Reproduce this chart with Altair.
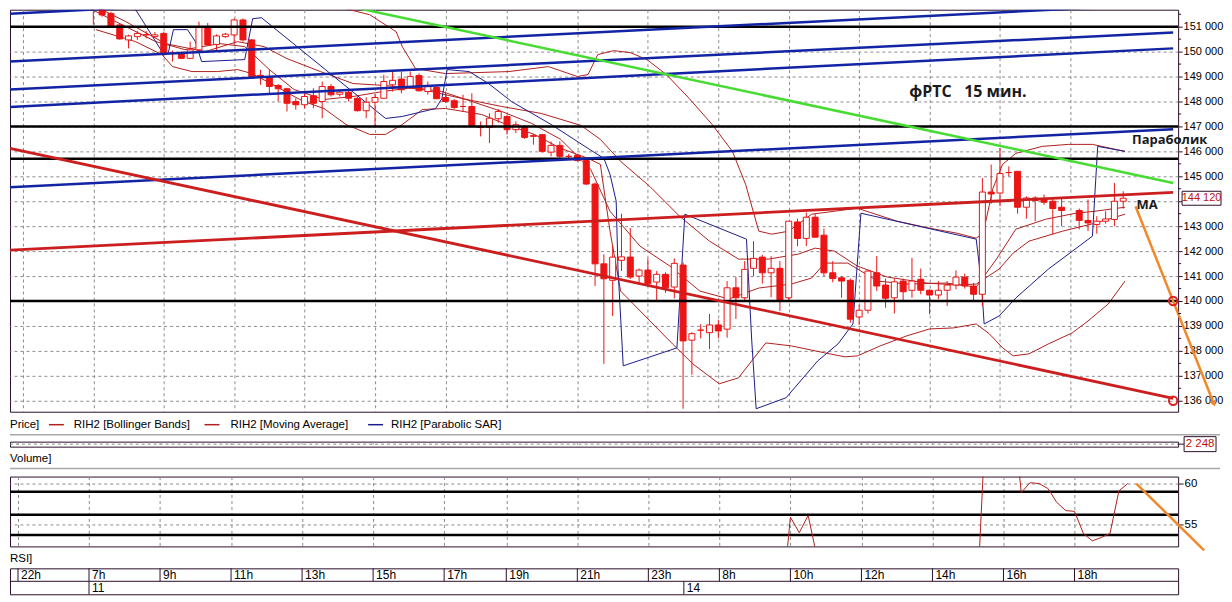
import altair as alt
import pandas as pd

# ------------------------------------------------------------------ data
# x unit = one 15-minute candle slot; slot 0 = 22h of the previous day
grid_slot = [0, 8, 16, 24, 32, 40, 48, 55, 63, 71, 79, 87, 95, 103, 111, 119]
time_labels = ["22h", "7h", "9h", "11h", "13h", "15h", "17h", "19h", "21h",
               "23h", "8h", "10h", "12h", "14h", "16h", "18h"]
day_slot = [8, 75]
day_labels = ["11", "14"]

price_ticks = [136000, 137000, 138000, 139000, 140000, 141000, 142000, 143000,
               144000, 145000, 146000, 147000, 148000, 149000, 150000, 151000]
minor_ticks = [136500, 137500, 138500, 139500, 140500, 141500, 142500, 143500,
               144500, 145500, 146500, 147500, 148500, 149500, 150500, 151500]

candle_slot = list(range(8, 119)) + list(range(120, 126))
candle_open = [
    152300, 151900, 151530, 151070, 150470, 150600, 150670, 150600, 150730, 149930,
    149930, 149730, 150070, 151000, 150290, 150600, 150670, 151270, 150470, 149050,
    148960, 148640, 148510, 148000, 147870, 148230, 148000, 148600, 148290, 148370,
    148130, 147630, 147970, 148130, 148670, 148900, 148600, 149040, 148400, 148560,
    148160, 148030, 147800, 147800, 146960, 146960, 147310, 147400, 146870, 147000,
    146600, 146670, 145970, 146240, 145800, 145840, 145630, 144690, 141490, 140830,
    141630, 141760, 141000, 141240, 140760, 141070, 140560, 141440, 138430, 138830,
    138730, 139040, 138870, 140530, 140130, 141310, 141760, 141130, 141310, 140130,
    143170, 142510, 143360, 142640, 141130, 140930, 140830, 139360, 139630, 141130,
    140640, 140130, 140800, 140430, 140870, 140430, 140240, 140430, 140640, 140960,
    140600, 140270, 144370, 144330, 145150, 145200, 143760, 144130, 144100, 144000, 143760,
    143630, 143230, 143070, 143200, 143270, 144000]
candle_high = [
    152500, 152000, 151600, 151150, 150680, 150830, 150830, 150790, 150800, 150040,
    150000, 150400, 151200, 151150, 150690, 150750, 151330, 151330, 150500, 149270,
    149270, 148700, 148550, 148130, 148330, 148530, 148800, 148700, 148470, 148450,
    148200, 148170, 148300, 149070, 149200, 149200, 149200, 149130, 148800, 148600,
    148400, 148100, 148270, 148330, 147200, 147530, 147700, 147450, 147200, 147050,
    146700, 146700, 146400, 146400, 145900, 145900, 145700, 144750, 141870, 142200,
    143500, 142930, 141300, 141710, 141200, 141150, 141710, 141550, 138750, 139070,
    139480, 139250, 140800, 140960, 141600, 142400, 141850, 141800, 141600, 143200,
    143300, 143550, 143500, 142900, 141600, 141000, 140900, 139850, 141250, 141800,
    140900, 140900, 140900, 141730, 141300, 140470, 140800, 140800, 141230, 141100,
    140730, 144930, 145470, 146130, 145400, 145200, 144200, 144200, 144270, 144100, 144100,
    143710, 144070, 143400, 143600, 144730, 144400]
candle_low = [
    151080, 151400, 150950, 150480, 150130, 150470, 150530, 150560, 149800, 149600,
    149700, 149700, 150000, 150250, 150000, 150550, 150270, 150400, 148930, 148670,
    148270, 148000, 147600, 147670, 147730, 147730, 147330, 148200, 148200, 148000,
    147600, 147330, 147000, 148100, 148400, 148330, 148500, 148400, 148270, 148100,
    147950, 147700, 147600, 147000, 146600, 146330, 147150, 146670, 146730, 146500,
    146270, 145950, 145800, 145730, 145700, 145600, 144650, 140600, 137480, 139400,
    141200, 140880, 140700, 140580, 140000, 140330, 140100, 135680, 137040, 138500,
    138070, 138500, 138530, 139280, 140000, 141000, 140700, 140150, 139600, 140000,
    142200, 142200, 142560, 141000, 140750, 140130, 139130, 139050, 139500, 140400,
    139730, 139500, 140000, 140130, 140270, 139470, 140070, 139800, 140470, 140500,
    140000, 139800, 143900, 143800, 145000, 143500, 143300, 143200, 143860, 142670, 143000,
    142870, 142800, 142700, 143100, 143000, 143700]
candle_close = [
    151950, 151470, 151000, 150510, 150630, 150730, 150680, 150670, 149910, 149940,
    149730, 150070, 151000, 150270, 150630, 150700, 151270, 150470, 149000, 149000,
    148600, 148510, 147930, 147870, 148200, 147930, 148600, 148270, 148370, 148130,
    147630, 147970, 148160, 148800, 148850, 148470, 149000, 148430, 148600, 148110,
    148000, 147760, 147800, 147040, 146960, 147330, 147600, 146870, 147070, 146560,
    146640, 146000, 146240, 145800, 145800, 145630, 144690, 141490, 140890, 141760,
    141770, 140960, 141240, 140690, 141070, 140530, 141510, 138400, 138690, 138830,
    139040, 138800, 140530, 140130, 141270, 141710, 141130, 141310, 140000, 143200,
    142510, 143360, 142560, 141130, 140900, 140800, 139270, 139630, 141200, 140600,
    140110, 140770, 140370, 140800, 140430, 140240, 140430, 140640, 140960, 140600,
    140270, 144370, 144290, 145110, 145150, 143760, 144130, 144030, 143960, 143710, 143630,
    143230, 143130, 143200, 143290, 144000, 144120]

bb_upper_slot = [8.9, 15.1, 20.7, 25.2, 27.8, 30.8, 35.3, 39.4, 42.4, 43.1, 44.6, 48.0,
                 55.2, 59.7, 63.0, 64.2, 65.3, 67.1, 69.0, 70.9, 73.1, 75.7, 78.3, 80.6,
                 82.1, 83.6, 85.1, 87.0, 89.6, 94.8, 99.3, 103.0, 106.1, 108.3, 109.1,
                 110.2, 111.3, 112.8, 115.8, 118.8, 121.5, 125.2]
bb_upper = [152400, 152200, 152000, 152080, 151880, 151800, 151840, 151480, 150800, 150200,
            149320, 149120, 149200, 149400, 149000, 149080, 149880, 150040, 149960, 149680,
            149080, 148120, 147080, 146000, 144680, 142800, 142680, 142800, 143480, 143720,
            143200, 142920, 142720, 142520, 142720, 144520, 145480, 145920, 146200, 146280,
            146280, 146000]
bb_mid_slot = [7.2, 11.7, 16.2, 20.7, 24.4, 27.4, 30.0, 33.8, 37.5, 41.2, 45.4, 49.9,
               54.4, 58.9, 63.4, 65.6, 67.9, 71.2, 74.6, 78.0, 81.3, 84.7, 88.1, 90.0,
               92.2, 94.8, 98.2, 102.7, 106.1, 108.3, 110.9, 112.5, 114.3, 118.1, 121.8, 125.2]
bb_mid = [152000, 151200, 150320, 150000, 150400, 150200, 149720, 149200, 148720, 148640,
          148480, 148120, 147800, 147520, 147040, 146480, 145600, 144600, 143400, 142400,
          141680, 141680, 141880, 142120, 142000, 141400, 140960, 140720, 140640, 140680,
          141280, 141920, 142400, 142800, 143120, 143480]
bb_lower_slot = [8.3, 12.8, 15.8, 17.0, 19.2, 22.1, 24.4, 26.0, 28.2, 30.4, 31.9, 34.2,
                 36.7, 39.4, 41.2, 43.1, 45.4, 48.0, 52.1, 55.2, 58.1, 61.1, 64.2, 65.6,
                 66.7, 67.9, 70.9, 73.8, 76.1, 79.1, 81.3, 82.8, 84.4, 87.3, 91.1, 93.4,
                 94.8, 97.4, 100.4, 103.0, 105.7, 108.3, 109.8, 111.3, 112.5, 114.3, 116.5,
                 119.2, 121.0, 123.3, 125.2]
bb_lower = [150880, 150400, 149880, 149400, 149200, 149200, 149280, 149120, 148720, 148280,
            148000, 147720, 147080, 146680, 146680, 147080, 147680, 147720, 147480, 147040,
            146680, 146120, 145720, 145480, 142800, 140400, 139320, 138280, 137480, 136680,
            136920, 137600, 138320, 138200, 137920, 137760, 137800, 138200, 138600, 138880,
            138920, 139080, 138680, 138120, 137800, 137880, 138280, 138720, 139200, 139880,
            140800]
ma_slot = [7.2, 11.7, 15.1, 18.4, 22.4, 25.2, 28.0, 30.8, 34.2, 37.5, 40.9, 44.3, 47.6,
           51.0, 54.4, 57.8, 61.1, 64.5, 66.7, 70.1, 73.5, 76.9, 80.2, 83.6, 87.3, 89.6,
           91.1, 93.7, 97.1, 100.4, 104.9, 108.3, 110.6, 112.8, 116.2, 119.6, 121.8, 125.2]
ma = [151800, 151000, 150400, 150080, 150320, 150200, 149280, 148480, 148080, 148200,
      148400, 148560, 148400, 148000, 147600, 147120, 146480, 145280, 143600, 142200,
      141400, 140400, 140080, 140520, 140680, 140920, 141520, 141520, 140800, 140680,
      140720, 140560, 141680, 142880, 143280, 143520, 143600, 143760]
sar_slot = [11.7, 12.6, 15.8, 16.5, 17.1, 18.7, 19.6, 20.3, 25.2, 26.1, 27.1, 41.2, 43.1,
            46.9, 47.6, 48.2, 50.7, 52.9, 55.5, 60.0, 64.2, 66.0, 66.7, 67.4, 67.6, 68.2,
            74.3, 75.2, 82.2, 82.8, 83.3, 86.7, 90.3, 92.6, 94.3, 95.2, 108.3, 108.9,
            109.2, 110.9, 112.8, 116.5, 121.5, 122.1, 125.2]
sar = [152600, 151800, 150000, 149920, 150880, 150880, 150400, 149600, 149680, 151320,
       151360, 147320, 147400, 147720, 148120, 149280, 149200, 148720, 148000, 147080,
       146120, 145720, 145080, 144000, 141320, 137400, 138120, 143480, 142480, 138400,
       135680, 136120, 137600, 138280, 139080, 143520, 142480, 140680, 139080, 139400,
       140120, 141280, 142600, 146200, 146000]

rsi_slot = [86, 87, 88, 89, 90,
            108, 109, 110, 111, 112, 113, 114, 115, 116, 117, 118, 119, 120, 121, 122, 123, 124, 125]
rsi_val = [44.5, 55.9, 54.0, 56.1, 51.0,
           45.0, 68.0, 72.0, 74.0, 70.0, 58.9, 60.1, 60.0, 59.4, 57.7, 56.7, 56.6, 53.9, 53.0,
           53.4, 53.9, 59.1, 60.0]
rsi_seg = [1, 1, 1, 1, 1,
           2, 2, 2, 2, 2, 2, 2, 2, 2, 2, 2, 2, 2, 2, 2, 2, 2, 2]
rsi_levels = [59.0, 56.2, 53.7]

# drawn objects
black_levels = [151000, 147000, 145700, 140000]
trend_slot = [-1.46, 130.67]
blue_start = [151520, 149600, 148480, 147780, 144560]
blue_end = [153870, 151920, 150770, 150130, 146890]
green_slot = [36.74, 130.67]
green_price = [151840, 144730]
red_start = [146120, 142040]
red_end = [136100, 144360]
orange_slot = [126.4, 135.3]
orange_price = [143800, 135880]
orange_rsi_slot = [125.96, 133.6]
orange_rsi_val = [60.0, 51.83]
circle_price = [140000, 136000]
circle_slot = 130.67
last_price = 144120
last_volume = 2248
note_title = "фРТС\u00a0\u00a0\u00a015 мин."
note_title_at = (100.7, 148400)
note_sar = "Параболик"
note_sar_at = (126.0, 146440)
note_ma = "MA"
note_ma_at = (126.5, 143840)
legend_labels = ["RIH2 [Bollinger Bands]", "RIH2 [Moving Average]", "RIH2 [Parabolic SAR]"]

# ------------------------------------------------------------------ style
W = 1171
SANS = "Liberation Sans, Arial, sans-serif"
BOLD = "Open Sans, Noto Sans, sans-serif"
BORDER = "#2a102a"
GRID = "#8c8c8c"
CANDLE_RED = "#ec1414"
THIN_RED = "#b0201e"
SAR_BLUE = "#1c1c8c"
TREND_BLUE = "#1224a4"
TREND_GREEN = "#46dc32"
TREND_RED = "#cc1e1e"
ORANGE = "#f2882a"

XS = alt.Scale(domain=[-0.9, 130.67], nice=False, zero=False)
XA = alt.Axis(values=grid_slot, labels=False, ticks=False, domain=False, grid=True,
              gridDash=[3, 3], gridColor=GRID, gridWidth=1)


def X(f, axis=True):
    if axis:
        return alt.X(f, type="quantitative", scale=XS, axis=XA, title=None)
    return alt.X(f, type="quantitative", scale=XS, axis=None, title=None)


YS = alt.Scale(domain=[135560, 151680], nice=False, zero=False)
YA = alt.Axis(orient="right", values=price_ticks,
              labelExpr="datum.value == 144000 ? '' : replace(format(datum.value, ','), ',', ' ')",
              grid=True, gridDash=[3, 3], gridColor=GRID, gridWidth=1, tickSize=4,
              tickColor=BORDER, domain=False, labelFont=SANS, labelFontSize=11,
              labelColor="black", labelPadding=1)


def Y(f):
    return alt.Y(f, type="quantitative", scale=YS, axis=YA, title=None)


# ------------------------------------------------------------------ main panel
cdf = pd.DataFrame({"slot": candle_slot, "o": candle_open, "h": candle_high,
                    "l": candle_low, "c": candle_close})
cdf["dir"] = ["up" if c >= o else "down" for o, c in zip(cdf["o"], cdf["c"])]

ind = pd.DataFrame({
    "slot": bb_upper_slot + bb_mid_slot + bb_lower_slot + ma_slot,
    "p": bb_upper + bb_mid + bb_lower + ma,
    "line": ["up"] * len(bb_upper) + ["mid"] * len(bb_mid) + ["low"] * len(bb_lower) + ["ma"] * len(ma),
})
sdf = pd.DataFrame({"slot": sar_slot, "p": sar})

thin = alt.Chart(ind).mark_line(color=THIN_RED, strokeWidth=1, clip=True).encode(
    x=X("slot"), y=Y("p"), detail="line:N")
sar_line = alt.Chart(sdf).mark_line(color=SAR_BLUE, strokeWidth=1, clip=True).encode(
    x=X("slot"), y=Y("p"))
wicks = alt.Chart(cdf).mark_rule(color=CANDLE_RED, strokeWidth=1, clip=True).encode(
    x=X("slot"), y=Y("l"), y2="h")
bodies = alt.Chart(cdf).mark_bar(size=6, stroke=CANDLE_RED, strokeWidth=1, clip=True).encode(
    x=X("slot"), y=Y("o"), y2="c",
    fill=alt.Fill("dir:N", scale=alt.Scale(domain=["up", "down"], range=["white", CANDLE_RED]),
                  legend=None))

levels = alt.Chart(pd.DataFrame({"p": black_levels})).mark_rule(
    color="black", strokeWidth=2.5).encode(y=Y("p"))

blue_df = pd.DataFrame({"x1": [trend_slot[0]] * 5, "x2": [trend_slot[1]] * 5,
                        "p1": blue_start, "p2": blue_end})
blue = alt.Chart(blue_df).mark_rule(color=TREND_BLUE, strokeWidth=2.5, clip=True).encode(
    x=X("x1"), x2="x2", y=Y("p1"), y2="p2")
green = alt.Chart(pd.DataFrame({"x1": [green_slot[0]], "x2": [green_slot[1]],
                                "p1": [green_price[0]], "p2": [green_price[1]]})).mark_rule(
    color=TREND_GREEN, strokeWidth=2.5, clip=True).encode(x=X("x1"), x2="x2", y=Y("p1"), y2="p2")
red_df = pd.DataFrame({"x1": [trend_slot[0]] * 2, "x2": [trend_slot[1]] * 2,
                       "p1": red_start, "p2": red_end})
red = alt.Chart(red_df).mark_rule(color=TREND_RED, strokeWidth=2.8, clip=True).encode(
    x=X("x1"), x2="x2", y=Y("p1"), y2="p2")

orange = alt.Chart(pd.DataFrame({"x1": [orange_slot[0]], "x2": [orange_slot[1]],
                                 "p1": [orange_price[0]], "p2": [orange_price[1]]})).mark_rule(
    color=ORANGE, strokeWidth=2.5, clip=False).encode(x=X("x1"), x2="x2", y=Y("p1"), y2="p2")
arrow_head = alt.Chart(pd.DataFrame({"x": [orange_slot[1]], "p": [orange_price[1]]})).mark_point(
    shape="triangle-down", filled=True, size=50, angle=338, color=ORANGE, opacity=1,
    clip=False).encode(x=X("x"), y=Y("p"))

circles = alt.Chart(pd.DataFrame({"x": [circle_slot] * 2, "p": circle_price})).mark_point(
    shape="circle", filled=False, size=70, strokeWidth=2, color="#e02020", opacity=1,
    clip=False).encode(x=X("x"), y=Y("p"))

minor = alt.Chart(pd.DataFrame({"p": minor_ticks})).mark_rule(
    color=BORDER, strokeWidth=1, clip=False).encode(x=alt.value(W), x2=alt.value(W + 3), y=Y("p"))

price_box = alt.Chart(pd.DataFrame({"p": [last_price]})).mark_rect(
    fill="white", stroke=BORDER, strokeWidth=1, yOffset=-7, y2Offset=7, clip=False).encode(
    x=alt.value(W + 4), x2=alt.value(W + 43), y=Y("p"), y2="p")
price_txt = alt.Chart(pd.DataFrame({"p": [last_price],
                                    "t": [f"{last_price:,}".replace(",", " ")]})).mark_text(
    font=SANS, fontSize=11, color="#c01010", align="center", baseline="middle",
    clip=False).encode(x=alt.value(W + 23.5), y=Y("p"), text="t:N")

notes_df = pd.DataFrame({"x": [note_title_at[0]], "p": [note_title_at[1]], "t": [note_title]})
notes = alt.Chart(notes_df).mark_text(
    font=BOLD, fontSize=16, fontWeight="bold", color="#1a1a1a", align="left",
    baseline="middle", clip=False).encode(x=X("x"), y=Y("p"), text="t:N")
side_df = pd.DataFrame({"x": [note_sar_at[0], note_ma_at[0]],
                        "p": [note_sar_at[1], note_ma_at[1]],
                        "t": [note_sar, note_ma]})
side_notes = alt.Chart(side_df).mark_text(
    font=BOLD, fontSize=13, fontWeight="bold", color="#1a1a1a", align="left",
    baseline="middle", clip=False).encode(x=X("x"), y=Y("p"), text="t:N")

main = alt.layer(thin, sar_line, wicks, bodies, levels, blue, green, red, orange,
                 arrow_head, circles, minor, price_box, price_txt, notes, side_notes).properties(
    width=W, height=403)

# ------------------------------------------------------------------ strips
one = pd.DataFrame({"k": [0]})
NOBORDER = alt.ViewBackground(stroke="transparent")


def txt(label, x, y, color="black", size=11.5):
    return alt.Chart(pd.DataFrame({"t": [label]})).mark_text(
        font=SANS, fontSize=size, color=color, align="left", baseline="middle").encode(
        x=alt.value(x), y=alt.value(y), text="t:N")


def seg(x1, x2, y, color, width=1.0):
    return alt.Chart(one).mark_rule(color=color, strokeWidth=width).encode(
        x=alt.value(x1), x2=alt.value(x2), y=alt.value(y))


leg_x = [64, 221, 382]
leg_line = [(39, 54), (195, 210), (359, 374)]
leg_color = [THIN_RED, THIN_RED, SAR_BLUE]
strip1_layers = [txt("Price]", 0, 13)]
for lab, lx, (a, b), col in zip(legend_labels, leg_x, leg_line, leg_color):
    strip1_layers.append(seg(a, b, 13, col, 1.5))
    strip1_layers.append(txt(lab, lx, 13))
strip1_layers.append(seg(0, W + 42, 23, "#a8a8a8", 1.5))
strip1 = alt.layer(*strip1_layers).properties(width=W, height=30, view=NOBORDER)

# volume strip
vol_grid = alt.Chart(pd.DataFrame({"slot": grid_slot})).mark_rule(
    color=GRID, strokeDash=[3, 3]).encode(x=X("slot", axis=False), y=alt.value(0), y2=alt.value(5))
vol_mid = alt.Chart(one).mark_rule(color=GRID, strokeDash=[3, 3]).encode(
    x=alt.value(0), x2=alt.value(W), y=alt.value(2.5))
vol_conn = seg(W, W + 6, 2.5, BORDER, 1)
vol_box = alt.Chart(one).mark_rect(fill="white", stroke=BORDER, strokeWidth=1).encode(
    x=alt.value(W + 6), x2=alt.value(W + 38), y=alt.value(-5), y2=alt.value(10))
vol_txt = alt.Chart(pd.DataFrame({"t": [f"{last_volume:,}".replace(",", " ")]})).mark_text(
    font=SANS, fontSize=11.5, color="#c01010", align="center", baseline="middle").encode(
    x=alt.value(W + 22), y=alt.value(2.5), text="t:N")
volume = alt.layer(vol_grid, vol_mid, vol_conn, vol_box, vol_txt).properties(width=W, height=5)

strip2 = alt.layer(txt("Volume]", 0, 12), seg(0, W + 42, 22, "#a8a8a8", 1.5)).properties(
    width=W, height=30, view=NOBORDER)

# ------------------------------------------------------------------ RSI panel
YRS = alt.Scale(domain=[52.32, 60.85], nice=False, zero=False)
YRA = alt.Axis(orient="right", values=[55, 60], grid=True, gridDash=[3, 3], gridColor=GRID,
               gridWidth=1, tickSize=5, tickColor=BORDER, domain=False, labelFont=SANS,
               labelFontSize=11.5, labelColor="black", labelPadding=1)


def YR(f):
    return alt.Y(f, type="quantitative", scale=YRS, axis=YRA, title=None)


rdf = pd.DataFrame({"slot": rsi_slot, "v": rsi_val, "seg": rsi_seg})
rsi_lines = alt.Chart(pd.DataFrame({"v": rsi_levels})).mark_rule(
    color="black", strokeWidth=2.5).encode(y=YR("v"))
rsi_curve = alt.Chart(rdf).mark_line(color=THIN_RED, strokeWidth=1, clip=True).encode(
    x=X("slot"), y=YR("v"), detail="seg:N")
rsi_orange = alt.Chart(pd.DataFrame({"x1": [orange_rsi_slot[0]], "x2": [orange_rsi_slot[1]],
                                     "v1": [orange_rsi_val[0]], "v2": [orange_rsi_val[1]]})).mark_rule(
    color=ORANGE, strokeWidth=2.5, clip=False).encode(x=X("x1"), x2="x2", y=YR("v1"), y2="v2")
rsi = alt.layer(rsi_lines, rsi_curve, rsi_orange).properties(width=W, height=70)

strip3 = alt.layer(txt("RSI]", 0, 13)).properties(width=W, height=22, view=NOBORDER)

# ------------------------------------------------------------------ time table
tdf = pd.DataFrame({"slot": grid_slot, "label": time_labels})
ddf = pd.DataFrame({"slot": day_slot, "label": day_labels})
row1_lines = alt.Chart(tdf).mark_rule(color=BORDER).encode(
    x=X("slot", axis=False), y=alt.value(0), y2=alt.value(13))
row2_lines = alt.Chart(ddf).mark_rule(color=BORDER).encode(
    x=X("slot", axis=False), y=alt.value(13), y2=alt.value(26))
row_sep = seg(0, W, 13, BORDER, 1)
row1_txt = alt.Chart(tdf).mark_text(font=SANS, fontSize=12, align="left", baseline="middle",
                                    dx=3, color="black").encode(
    x=X("slot", axis=False), y=alt.value(7), text="label:N")
row2_txt = alt.Chart(ddf).mark_text(font=SANS, fontSize=12, align="left", baseline="middle",
                                    dx=3, color="black").encode(
    x=X("slot", axis=False), y=alt.value(20), text="label:N")
table = alt.layer(row1_lines, row2_lines, row_sep, row1_txt, row2_txt).properties(
    width=W, height=26)

chart = alt.vconcat(main, strip1, volume, strip2, rsi, strip3, table,
                    spacing=0, bounds="flush").properties(
    padding={"left": 0, "top": 0, "right": 0, "bottom": 0}).configure_view(
    stroke=BORDER, strokeWidth=1)

chart.save("out.html", embed_options={"renderer": "svg", "actions": False})
